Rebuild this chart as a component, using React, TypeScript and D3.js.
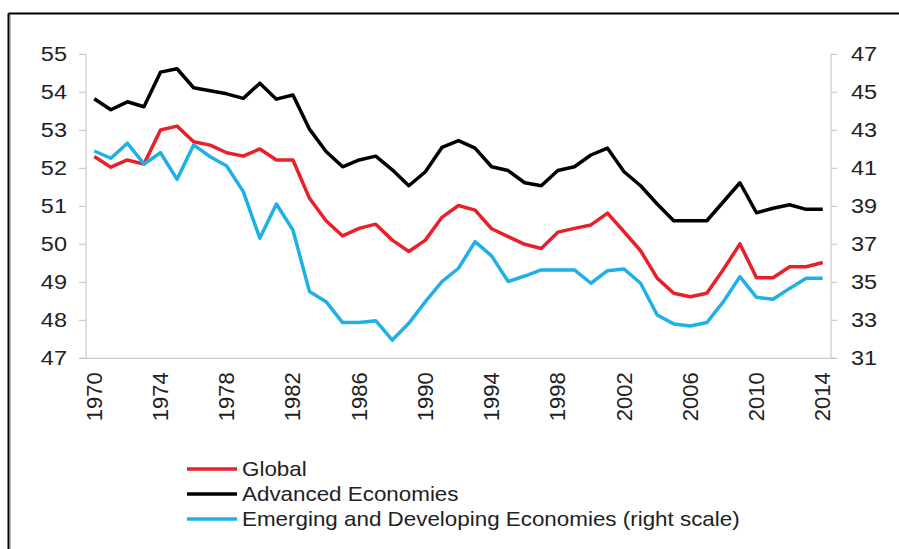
import React from "react";
import * as d3 from "d3";

const years: number[] = [
  1970, 1971, 1972, 1973, 1974, 1975, 1976, 1977, 1978, 1979,
  1980, 1981, 1982, 1983, 1984, 1985, 1986, 1987, 1988, 1989,
  1990, 1991, 1992, 1993, 1994, 1995, 1996, 1997, 1998, 1999,
  2000, 2001, 2002, 2003, 2004, 2005, 2006, 2007, 2008, 2009,
  2010, 2011, 2012, 2013, 2014,
];

const globalSeries: number[] = [
  52.31, 52.03, 52.22, 52.11, 53.01, 53.11, 52.7, 52.61, 52.41, 52.32,
  52.51, 52.22, 52.22, 51.21, 50.62, 50.22, 50.42, 50.53, 50.11, 49.81,
  50.11, 50.71, 51.02, 50.9, 50.41, 50.2, 50.0, 49.89, 50.32, 50.42,
  50.51, 50.82, 50.33, 49.83, 49.11, 48.71, 48.62, 48.71, 49.34, 50.01,
  49.12, 49.12, 49.41, 49.41, 49.52,
];

const advancedSeries: number[] = [
  53.83, 53.54, 53.75, 53.62, 54.53, 54.62, 54.12, 54.04, 53.96, 53.84,
  54.24, 53.82, 53.93, 53.03, 52.44, 52.04, 52.22, 52.32, 51.96, 51.54,
  51.91, 52.55, 52.73, 52.53, 52.04, 51.94, 51.62, 51.54, 51.94, 52.04,
  52.35, 52.53, 51.91, 51.54, 51.06, 50.62, 50.62, 50.62, 51.12, 51.62,
  50.83, 50.95, 51.04, 50.92, 50.92,
];

const emergingSeries: number[] = [
  41.91, 41.53, 42.32, 41.23, 41.82, 40.42, 42.23, 41.61, 41.12, 39.77,
  37.32, 39.12, 37.75, 34.51, 33.98, 32.88, 32.88, 32.98, 31.96, 32.84,
  33.98, 35.04, 35.74, 37.14, 36.39, 35.04, 35.33, 35.65, 35.65, 35.65,
  34.95, 35.61, 35.7, 34.95, 33.28, 32.81, 32.7, 32.88, 33.98, 35.3,
  34.21, 34.11, 34.68, 35.21, 35.21,
];

const leftTicks: number[] = [47, 48, 49, 50, 51, 52, 53, 54, 55];
const rightTicks: number[] = [31, 33, 35, 37, 39, 41, 43, 45, 47];
const xTickYears: number[] = [1970, 1974, 1978, 1982, 1986, 1990, 1994, 1998, 2002, 2006, 2010, 2014];

const legendLabels: string[] = [
  "Global",
  "Advanced Economies",
  "Emerging and Developing Economies (right scale)",
];
const legendColors: string[] = ["#e8202a", "#000000", "#1fb0e6"];

export default function App() {
  const W = 899;
  const H = 549;
  const left = 86;
  const right = 831;
  const top = 54.3;
  const bottom = 358.3;
  const font = "'Liberation Sans', Arial, sans-serif";
  const axisColor = "#c0c0c0";
  const textColor = "#222";
  const sx = 1.12;

  const x = d3
    .scaleBand<number>()
    .domain(years)
    .range([left, right])
    .paddingInner(0)
    .paddingOuter(0);
  const xc = (yr: number) => (x(yr) as number) + x.bandwidth() / 2;
  const yL = d3.scaleLinear().domain([47, 55]).range([bottom, top]);
  const yR = d3.scaleLinear().domain([31, 47]).range([bottom, top]);

  const lineL = d3
    .line<number>()
    .x((_, i) => xc(years[i]))
    .y((d) => yL(d));
  const lineR = d3
    .line<number>()
    .x((_, i) => xc(years[i]))
    .y((d) => yR(d));

  return (
    <svg
      width={W}
      height={H}
      style={{ position: "absolute", left: 0, top: 0, background: "#fff" }}
    >
      <rect x={0} y={0} width={W} height={H} fill="#fff" />
      {/* frame */}
      <line x1={8.5} y1={13.5} x2={W + 2} y2={13.5} stroke="#000" strokeWidth={2} />
      <line x1={8.5} y1={13.5} x2={8.5} y2={H + 2} stroke="#000" strokeWidth={2} />
      <line x1={10.5} y1={15} x2={10.5} y2={H + 2} stroke="#bbb" strokeWidth={1} />

      {/* axes */}
      <line x1={left} y1={top} x2={left} y2={bottom} stroke={axisColor} strokeWidth={1} />
      <line x1={right} y1={top} x2={right} y2={bottom} stroke={axisColor} strokeWidth={1} />
      <line x1={79} y1={bottom} x2={837} y2={bottom} stroke={axisColor} strokeWidth={1} />

      {leftTicks.map((t) => (
        <g key={"l" + t}>
          <line x1={left - 7} x2={left} y1={yL(t)} y2={yL(t)} stroke={axisColor} strokeWidth={1} />
          <text
            transform={`translate(67,${yL(t)}) scale(${sx},1)`}
            textAnchor="end"
            dominantBaseline="central"
            fontFamily={font}
            fontSize={21}
            fill={textColor}
          >
            {t}
          </text>
        </g>
      ))}
      {rightTicks.map((t) => (
        <g key={"r" + t}>
          <line x1={right} x2={right + 6} y1={yR(t)} y2={yR(t)} stroke={axisColor} strokeWidth={1} />
          <text
            transform={`translate(851,${yR(t)}) scale(${sx},1)`}
            textAnchor="start"
            dominantBaseline="central"
            fontFamily={font}
            fontSize={21}
            fill={textColor}
          >
            {t}
          </text>
        </g>
      ))}
      {xTickYears.map((yr) => (
        <text
          key={"x" + yr}
          transform={`translate(${xc(yr)},${bottom + 14}) rotate(-90)`}
          textAnchor="end"
          dominantBaseline="central"
          fontFamily={font}
          fontSize={22}
          fill={textColor}
        >
          {yr}
        </text>
      ))}

      {/* series */}
      <path
        d={lineL(globalSeries) || ""}
        fill="none"
        stroke={legendColors[0]}
        strokeWidth={3.5}
        strokeLinejoin="round"
      />
      <path
        d={lineL(advancedSeries) || ""}
        fill="none"
        stroke={legendColors[1]}
        strokeWidth={3.5}
        strokeLinejoin="round"
      />
      <path
        d={lineR(emergingSeries) || ""}
        fill="none"
        stroke={legendColors[2]}
        strokeWidth={3.5}
        strokeLinejoin="round"
      />

      {/* legend */}
      {legendLabels.map((label, i) => {
        const ly = 469 + i * 25;
        return (
          <g key={label}>
            <line x1={187} x2={237} y1={ly} y2={ly} stroke={legendColors[i]} strokeWidth={3.5} />
            <text
              transform={`translate(242,${ly}) scale(${sx},1)`}
              dominantBaseline="central"
              fontFamily={font}
              fontSize={20}
              fill={textColor}
            >
              {label}
            </text>
          </g>
        );
      })}
    </svg>
  );
}
